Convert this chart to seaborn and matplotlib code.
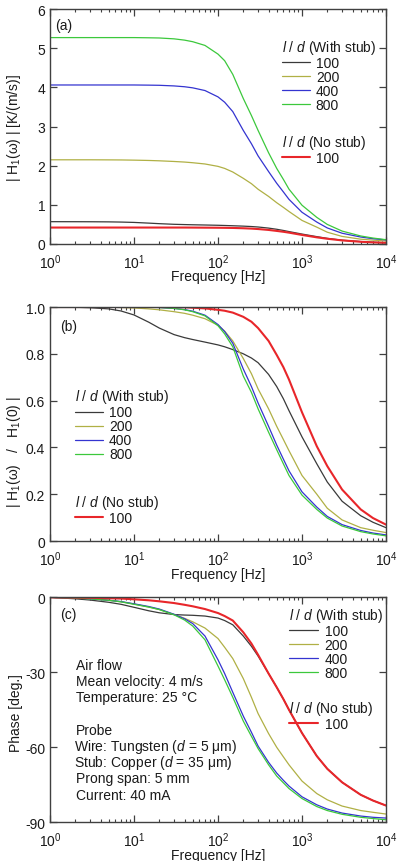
import matplotlib
matplotlib.use("Agg")
import matplotlib.pyplot as plt
import matplotlib.transforms as mtransforms
import seaborn as sns
from matplotlib.ticker import FixedLocator, NullLocator, FuncFormatter, LogLocator
import math

# ---------------- data ----------------
freq = [1, 2, 3, 5, 7, 10, 15, 20, 30, 40, 50, 70, 100, 120, 150, 200, 250, 300, 400, 500,
        600, 700, 1000, 1500, 2000, 3000, 5000, 7000, 10000]

stub_ratios = ["100", "200", "400", "800"]
nostub_ratios = ["100"]

# (a) |H1(w)| [K/(m/s)]
mag_100 = [0.570, 0.569, 0.568, 0.565, 0.560, 0.551, 0.533, 0.519, 0.503, 0.496, 0.491, 0.485, 0.478,
           0.473, 0.466, 0.456, 0.446, 0.434, 0.406, 0.376, 0.346, 0.317, 0.254, 0.188, 0.144, 0.097,
           0.062, 0.046, 0.032]
mag_200 = [2.150, 2.150, 2.150, 2.148, 2.146, 2.141, 2.133, 2.124, 2.107, 2.092, 2.075, 2.043, 1.982,
           1.930, 1.838, 1.677, 1.540, 1.398, 1.215, 1.054, 0.935, 0.830, 0.602, 0.430, 0.301, 0.194,
           0.123, 0.099, 0.077]
mag_400 = [4.060, 4.060, 4.060, 4.060, 4.060, 4.060, 4.056, 4.052, 4.036, 4.015, 3.987, 3.918, 3.756,
           3.620, 3.380, 2.900, 2.560, 2.250, 1.850, 1.550, 1.330, 1.140, 0.810, 0.560, 0.410, 0.275,
           0.178, 0.135, 0.104]
mag_800 = [5.270, 5.270, 5.270, 5.270, 5.270, 5.270, 5.265, 5.260, 5.238, 5.205, 5.165, 5.070, 4.848,
           4.680, 4.330, 3.715, 3.280, 2.900, 2.330, 1.930, 1.650, 1.400, 0.990, 0.680, 0.500, 0.330,
           0.205, 0.152, 0.110]
mag_nostub = [0.420, 0.420, 0.420, 0.420, 0.420, 0.420, 0.420, 0.420, 0.420, 0.420, 0.419, 0.417, 0.415,
              0.413, 0.410, 0.402, 0.393, 0.382, 0.359, 0.334, 0.312, 0.290, 0.231, 0.170, 0.134, 0.092,
              0.057, 0.041, 0.029]

# (b) |H1(w) / H1(0)|
norm_100 = [1.000, 0.999, 0.997, 0.992, 0.983, 0.966, 0.935, 0.910, 0.882, 0.869, 0.861, 0.850, 0.838,
            0.830, 0.818, 0.800, 0.782, 0.762, 0.712, 0.660, 0.608, 0.557, 0.445, 0.330, 0.252, 0.170,
            0.108, 0.080, 0.057]
norm_200 = [1.000, 1.000, 1.000, 0.999, 0.998, 0.996, 0.992, 0.988, 0.980, 0.973, 0.965, 0.950, 0.922,
            0.897, 0.855, 0.780, 0.715, 0.650, 0.565, 0.490, 0.434, 0.386, 0.280, 0.200, 0.140, 0.090,
            0.057, 0.046, 0.036]
norm_400 = [1.000, 1.000, 1.000, 1.000, 1.000, 1.000, 0.999, 0.998, 0.994, 0.989, 0.982, 0.965, 0.925,
            0.895, 0.845, 0.735, 0.660, 0.590, 0.490, 0.410, 0.350, 0.300, 0.210, 0.145, 0.105, 0.070,
            0.045, 0.034, 0.026]
norm_800 = [1.000, 1.000, 1.000, 1.000, 1.000, 1.000, 0.999, 0.998, 0.994, 0.988, 0.980, 0.962, 0.920,
            0.885, 0.830, 0.705, 0.635, 0.565, 0.465, 0.390, 0.330, 0.280, 0.196, 0.135, 0.098, 0.064,
            0.040, 0.030, 0.022]
norm_nostub = [1.000, 1.000, 1.000, 1.000, 1.000, 1.000, 1.000, 1.000, 1.000, 0.999, 0.997, 0.994, 0.988,
               0.984, 0.976, 0.958, 0.937, 0.910, 0.855, 0.795, 0.743, 0.690, 0.550, 0.405, 0.320, 0.220,
               0.135, 0.098, 0.070]

# (c) phase [deg.]
phase_100 = [0.0, -0.6, -1.1, -2.0, -2.8, -4.0, -5.4, -6.2, -6.9, -7.1, -7.2, -7.5, -8.3,
             -9.3, -11.0, -15.5, -19.6, -23.5, -30.5, -36.0, -40.7, -45.0, -54.3, -63.5, -68.6, -74.0,
             -79.0, -81.3, -83.3]
phase_200 = [0.0, -0.3, -0.6, -1.2, -1.8, -2.7, -3.9, -4.9, -6.9, -8.4, -9.8, -12.3, -16.5,
             -20.0, -24.5, -32.5, -40.0, -46.5, -54.5, -60.0, -63.8, -67.0, -73.5, -78.5, -81.0, -83.5,
             -85.3, -86.0, -86.7]
phase_400 = [0.0, -0.3, -0.6, -1.2, -1.7, -2.6, -3.7, -4.7, -6.8, -8.6, -10.5, -15.5, -25.0,
             -30.5, -38.0, -47.5, -54.0, -59.5, -66.0, -70.3, -73.2, -75.5, -79.8, -83.0, -84.7, -86.3,
             -87.5, -88.0, -88.3]
phase_800 = [0.0, -0.3, -0.6, -1.2, -1.8, -2.8, -3.9, -4.9, -7.0, -9.1, -11.5, -17.0, -27.5,
             -33.0, -40.0, -49.5, -55.6, -60.5, -67.0, -71.5, -74.2, -76.5, -80.5, -83.7, -85.3, -86.8,
             -88.0, -88.5, -89.0]
phase_nostub = [0.0, -0.1, -0.2, -0.4, -0.5, -0.8, -1.2, -1.6, -2.3, -3.0, -3.6, -4.7, -6.3,
                -7.5, -9.3, -14.0, -18.5, -23.0, -30.5, -36.0, -40.7, -45.0, -54.3, -63.5, -68.6, -74.0,
                -79.0, -81.3, -83.3]

xticks = [1, 10, 100, 1000, 10000]

info_lines = ["Air flow", "Mean velocity: 4 m/s", "Temperature: 25 °C", "",
              "Probe", "Wire: Tungsten ($d$ = 5 μm)", "Stub: Copper ($d$ = 35 μm)",
              "Prong span: 5 mm", "Current: 40 mA"]

# ---------------- style ----------------
sns.set_theme(style="ticks")
plt.rcParams.update({
    "font.family": ["Liberation Sans", "DejaVu Sans"],
    "mathtext.fontset": "custom",
    "mathtext.rm": "Liberation Sans",
    "mathtext.it": "Liberation Sans:italic",
    "mathtext.bf": "Liberation Sans:bold",
    "axes.unicode_minus": False,
    "font.size": 10,
    "axes.edgecolor": "#404040",
    "axes.linewidth": 1.0,
    "xtick.color": "#404040",
    "ytick.color": "#404040",
    "xtick.labelcolor": "#1a1a1a",
    "ytick.labelcolor": "#1a1a1a",
    "axes.labelcolor": "#1a1a1a",
    "text.color": "#1a1a1a",
})

colors = {"100": "#3a3a3a", "200": "#b0b045", "400": "#3434d0", "800": "#3cc83c"}
red = "#e8262a"

W, H = 398, 862
fig = plt.figure(figsize=(W / 100, H / 100), dpi=100)


def add_ax(top_px, bottom_px):
    left, right = 50, 386
    return fig.add_axes([left / W, 1 - bottom_px / H, (right - left) / W, (bottom_px - top_px) / H])


ax_a = add_ax(10, 245)
ax_b = add_ax(308, 542)
ax_c = add_ax(598.3, 823.3)


def draw(ax, series, nostub):
    hs = []
    for lab, vals in zip(stub_ratios, series):
        sns.lineplot(x=freq, y=vals, ax=ax, color=colors[lab], lw=0.9, legend=False)
        hs.append(ax.get_lines()[-1])
    sns.lineplot(x=freq, y=nostub, ax=ax, color=red, lw=1.5, legend=False)
    hs.append(ax.get_lines()[-1])
    return hs


def style(ax, ylim, yticks, ylabels):
    ax.set_xscale("log")
    ax.set_xlim(1, 10000)
    ax.set_ylim(*ylim)
    ax.xaxis.set_major_locator(FixedLocator(xticks))
    ax.xaxis.set_minor_locator(LogLocator(base=10, subs=range(2, 10), numticks=20))
    ax.xaxis.set_major_formatter(FuncFormatter(lambda v, p: r"$10^{%d}$" % round(math.log10(v))))
    ax.yaxis.set_major_locator(FixedLocator(yticks))
    ax.yaxis.set_minor_locator(NullLocator())
    ax.set_yticklabels(ylabels)
    ax.tick_params(which="both", direction="in", top=True, right=True, labelsize=10)
    ax.tick_params(which="major", length=5, width=0.9)
    ax.tick_params(axis="x", which="major", pad=6)
    ax.tick_params(which="minor", length=2.5, width=0.8)
    for s in ax.spines.values():
        s.set_visible(True)
    ax.set_xlabel("Frequency [Hz]", fontsize=10)


def legends(ax, hs, pos1, pos2, hlen=2.0):
    kw = dict(loc="upper left", frameon=False, borderpad=0, borderaxespad=0,
              handlelength=hlen, handletextpad=0.45, labelspacing=0.0,
              fontsize=10, title_fontsize=10, alignment="left")
    l1 = ax.legend(handles=hs[:4], labels=stub_ratios, title=r"$l$ / $d$ (With stub)",
                   bbox_to_anchor=pos1, **kw)
    ax.add_artist(l1)
    ax.legend(handles=hs[4:], labels=nostub_ratios, title=r"$l$ / $d$ (No stub)",
              bbox_to_anchor=pos2, **kw)


# (a)
hs = draw(ax_a, [mag_100, mag_200, mag_400, mag_800], mag_nostub)
style(ax_a, (0, 6), [0, 1, 2, 3, 4, 5, 6], ["0", "1", "2", "3", "4", "5", "6"])
ax_a.set_ylabel("| H$_1$(ω) | [K/(m/s)]", fontsize=10)
ax_a.text(0.015, 0.932, "(a)", transform=ax_a.transAxes, ha="left", va="center", fontsize=10)
legends(ax_a, hs, (0.69, 0.877), (0.69, 0.473))

# (b)
hs = draw(ax_b, [norm_100, norm_200, norm_400, norm_800], norm_nostub)
style(ax_b, (0, 1), [0, 0.2, 0.4, 0.6, 0.8, 1.0], ["0", "0.2", "0.4", "0.6", "0.8", "1.0"])
ax_b.set_ylabel("| H$_1$(ω)   /   H$_1$(0) |", fontsize=10)
ax_b.text(0.03, 0.92, "(b)", transform=ax_b.transAxes, ha="left", va="center", fontsize=10)
legends(ax_b, hs, (0.074, 0.656), (0.074, 0.205))

# (c)
hs = draw(ax_c, [phase_100, phase_200, phase_400, phase_800], phase_nostub)
style(ax_c, (-90, 0), [0, -30, -60, -90], ["0", "-30", "-60", "-90"])
ax_c.set_ylabel("Phase [deg.]", fontsize=10)
ax_c.text(0.03, 0.924, "(c)", transform=ax_c.transAxes, ha="left", va="center", fontsize=10)
legends(ax_c, hs, (0.712, 0.962), (0.712, 0.547), hlen=2.1)
math_shift = mtransforms.ScaledTranslation(-2 / 100, 0, fig.dpi_scale_trans)
for i, line in enumerate(info_lines):
    if not line:
        continue
    base_px = 670 + 16.2 * i
    tr = ax_c.transAxes + math_shift if "$" in line else ax_c.transAxes
    ax_c.text(0.0774, 1 - (base_px - 598.3) / 225, line, transform=tr,
              ha="left", va="baseline", fontsize=10)

ax_a.yaxis.set_label_coords(-0.08, 0.5)
ax_b.yaxis.set_label_coords(-0.08, 0.385)
ax_c.yaxis.set_label_coords(-0.08, 0.49)
ax_a.xaxis.set_label_coords(0.5, -0.108)
ax_b.xaxis.set_label_coords(0.5, -0.109)
ax_c.xaxis.set_label_coords(0.5, -0.113)

fig.savefig("out.png", dpi=100)
